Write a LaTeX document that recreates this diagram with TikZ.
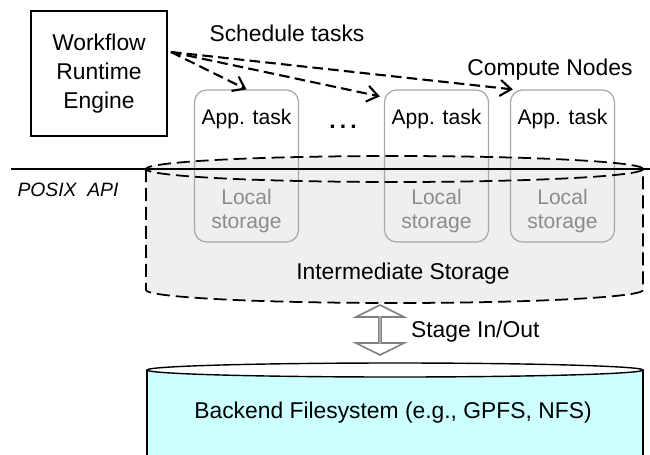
\documentclass[tikz,border=0pt]{standalone}
\usepackage{fontspec}
\setmainfont{Liberation Sans}
\usetikzlibrary{arrows.meta,shapes.arrows,calc}

\definecolor{taskgray}{HTML}{A8A8A8}
\definecolor{storegray}{HTML}{8C8C8C}
\definecolor{interfill}{HTML}{EFEFEF}
\definecolor{backfill}{HTML}{CCFFFF}

\begin{document}
\begin{tikzpicture}[x=0.02cm,y=-0.02cm,line width=.35pt,font=\fontsize{13}{15}\selectfont,
  engine/.style={draw,line width=1.1pt,minimum width=2.72cm,minimum height=2.5cm,align=center,inner sep=0pt,
    font=\fontsize{13}{16.5}\selectfont},
  task/.style={draw=taskgray,line width=.7pt,rounded corners=0.24cm,minimum width=2.08cm,minimum height=3.04cm,inner sep=0pt},
  tasklabel/.style={inner sep=1pt,font=\fontsize{12}{14}\selectfont},
  locallabel/.style={inner sep=1pt,align=center,text=storegray,font=\fontsize{12}{13.7}\selectfont},
  schedarrow/.style={line width=1.2pt,dash pattern=on 6pt off 3pt,-{Straight Barb[length=2.2mm,width=3.2mm]}},
  dashcyl/.style={line width=1pt,dash pattern=on 7.4pt off 3.4pt},
  stagearrow/.style={double arrow,draw=gray,fill=white,line width=.9pt,rotate=90,inner sep=0pt,
    minimum height=1cm,minimum width=0.96cm,double arrow head extend=0.32cm,double arrow tip angle=127}]
\useasboundingbox (0,0) rectangle (650,454);
\clip (0,0) rectangle (650,454);
% backend filesystem
\fill[backfill] (147,370) rectangle (643,470);
\draw[line width=.8pt] (147,470) -- (147,370);
\draw[line width=.8pt] (643,370) -- (643,470);
\filldraw[fill=white,line width=.8pt] (395,370) ellipse[x radius=248,y radius=7];
\node (backend) at (393,413) {Backend Filesystem (e.g., GPFS, NFS)};
% intermediate storage
\fill[interfill] (146,169) rectangle (643,290);
\fill[interfill] (394.5,290) ellipse[x radius=248.5,y radius=13];
\fill[interfill] (394.5,169) ellipse[x radius=248.5,y radius=13];
\node (istore) at (403,274) {Intermediate Storage};
% compute nodes
\node[task] (task1) at (246.5,166) {};
\node[task] (task2) at (436.5,166) {};
\node[task] (task3) at (562.5,166) {};
\node[tasklabel] (app1) at ([yshift=-0.6cm]task1.north) {App. task};
\node[tasklabel] (app2) at ([yshift=-0.6cm]task2.north) {App. task};
\node[tasklabel] (app3) at ([yshift=-0.6cm]task3.north) {App. task};
\node[locallabel] (loc1) at ([yshift=0.64cm]task1.south) {Local\\storage};
\node[locallabel] (loc2) at ([yshift=0.64cm]task2.south) {Local\\storage};
\node[locallabel] (loc3) at ([yshift=0.64cm]task3.south) {Local\\storage};
\node (dots) at (343,127) {\textbf{.\hspace{2.4pt}.\hspace{2.4pt}.}};
\node (cnodes) at (550,70) {Compute Nodes};
% dashed outline of the intermediate storage
\draw[dashcyl] (394.5,169) ellipse[x radius=248.5,y radius=13];
\draw[dashcyl] (146,169) -- (146,290) arc[start angle=180,end angle=0,x radius=248.5,y radius=13] -- (643,169);
% POSIX line
\draw[line width=1.1pt] (11,169) -- (650,169);
\node[font=\fontsize{11}{13}\selectfont\itshape] (posix) at (68,190) {POSIX~ API};
% workflow engine
\node[engine] (engine) at (99,73.5) {Workflow\\Runtime\\Engine};
\node (schedlabel) at (287,33) {Schedule tasks};
\coordinate (schedfrom) at ([xshift=0.06cm,yshift=0.43cm]engine.east);
\draw[schedarrow] (schedfrom) -- (task1.north);
\draw[schedarrow] (schedfrom) -- ([shift={(-4,7)}]task2.north west);
\draw[schedarrow] (schedfrom) -- ([xshift=0.06cm]task3.north west);
% stage in/out
\coordinate (istorebot) at (380,305);
\coordinate (backendtop) at (380,355);
\node[stagearrow] (stage) at ($(istorebot)!0.5!(backendtop)$) {};
\node[anchor=west] (stagelabel) at (405,332) {Stage In/Out};
\end{tikzpicture}
\end{document}
